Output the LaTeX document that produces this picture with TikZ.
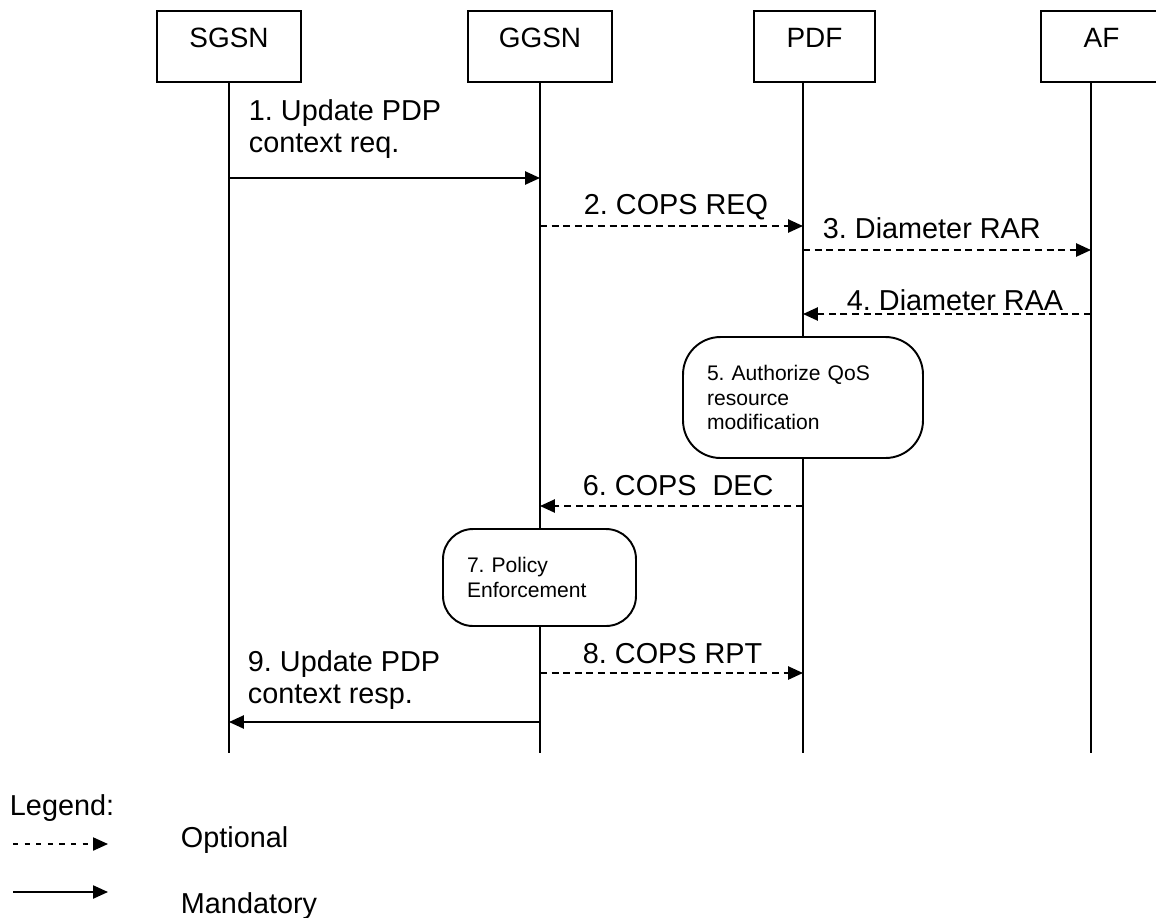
\documentclass[tikz,border=0pt]{standalone}
\usepackage{fontspec}
\setmainfont{Liberation Sans}
\usetikzlibrary{arrows.meta, positioning}
\frenchspacing

\begin{document}
\begin{tikzpicture}[
		x=0.02cm, y=-0.02cm,
		line width=1.1pt,
		>={Triangle[length=8.5pt, width=7.5pt]},
		entity/.style={draw, fill=white, rectangle, minimum height=1.42cm, text depth=0.35cm, inner sep=0pt, font=\fontsize{15.9}{18.1}\selectfont},
		action/.style={draw, fill=white, rounded corners=0.7cm, align=left, inner sep=0pt, font=\fontsize{12}{14.2}\selectfont},
		msg/.style={anchor=base west, align=left, inner sep=0pt, font=\fontsize{16.4}{18.1}\selectfont},
		legendtext/.style={anchor=base west, inner sep=0pt, font=\fontsize{16.4}{18}\selectfont},
		mandmsg/.style={->},
		optmsg/.style={->, dash pattern=on 4pt off 2.6pt}
	]
	\clip (0,0) rectangle (1156,917);

	% entities
	\node[entity, minimum width=2.88cm] (sgsn) at (229,46.5) {SGSN};
	\node[entity, minimum width=2.88cm] (ggsn) at (540,46.5) {GGSN};
	\node[entity, minimum width=2.42cm] (pdf) at (814.5,46.5) {PDF};
	\node[entity, minimum width=2.42cm] (af) at (1101.5,46.5) {AF};

	% lifelines
	\coordinate (sgsn-end) at (229,753);
	\coordinate (ggsn-end) at (540,753);
	\coordinate (pdf-end) at (803,753);
	\coordinate (af-end) at (1091,753);
	\draw (sgsn.south) -- (sgsn-end);
	\draw (ggsn.south) -- (ggsn-end);
	\draw (pdf.south -| pdf-end) -- (pdf-end);
	\draw (af.south -| af-end) -- (af-end);

	% messages
	\draw[mandmsg] (sgsn-end |- 0,178) -- (ggsn-end |- 0,178);
	\node[msg] (m1) at (248,152) {1. Update PDP\\context req.};
	\draw[optmsg] (ggsn-end |- 0,226) -- (pdf-end |- 0,226);
	\node[msg] (m2) at (583,214) {2. COPS REQ};
	\draw[optmsg] (pdf-end |- 0,250) -- (af-end |- 0,250);
	\node[msg] (m3) at (822,238) {3. Diameter RAR};
	\draw[optmsg] (af-end |- 0,314) -- (pdf-end |- 0,314);
	\node[msg] (m4) at (846,310) {4. Diameter RAA};

	\node[action, rounded corners=0.75cm, minimum width=4.8cm, minimum height=2.42cm, text width=3.84cm] (authorize) at (803,397.5) {5. Authorize QoS\\resource\\modification};

	\draw[optmsg] (pdf-end |- 0,506) -- (ggsn-end |- 0,506);
	\node[msg] (m6) at (582,495) {6. COPS\ \ DEC};

	\node[action, rounded corners=0.6cm, minimum width=3.86cm, minimum height=1.94cm, text width=2.9cm] (enforce) at (539.5,577.5) {7. Policy\\Enforcement};

	\draw[optmsg] (ggsn-end |- 0,673) -- (pdf-end |- 0,673);
	\node[msg] (m8) at (582,663) {8. COPS RPT};
	\draw[mandmsg] (ggsn-end |- 0,722) -- (sgsn-end |- 0,722);
	\node[msg] (m9) at (247,703) {9. Update PDP\\context resp.};

	% legend
	\node[legendtext] (legend) at (9,815) {Legend:};
	\coordinate (opt-a) at (13,844);
	\coordinate (opt-b) at (108,844);
	\draw[->, line width=0.8pt, dash pattern=on 3pt off 3.6pt] (opt-a) -- (opt-b);
	\node[legendtext] (optional) at (180,847) {Optional};
	\coordinate (mand-a) at (13,892);
	\coordinate (mand-b) at (108,892);
	\draw[->, line width=0.9pt] (mand-a) -- (mand-b);
	\node[legendtext] (mandatory) at (180,913) {Mandatory};
\end{tikzpicture}
\end{document}
